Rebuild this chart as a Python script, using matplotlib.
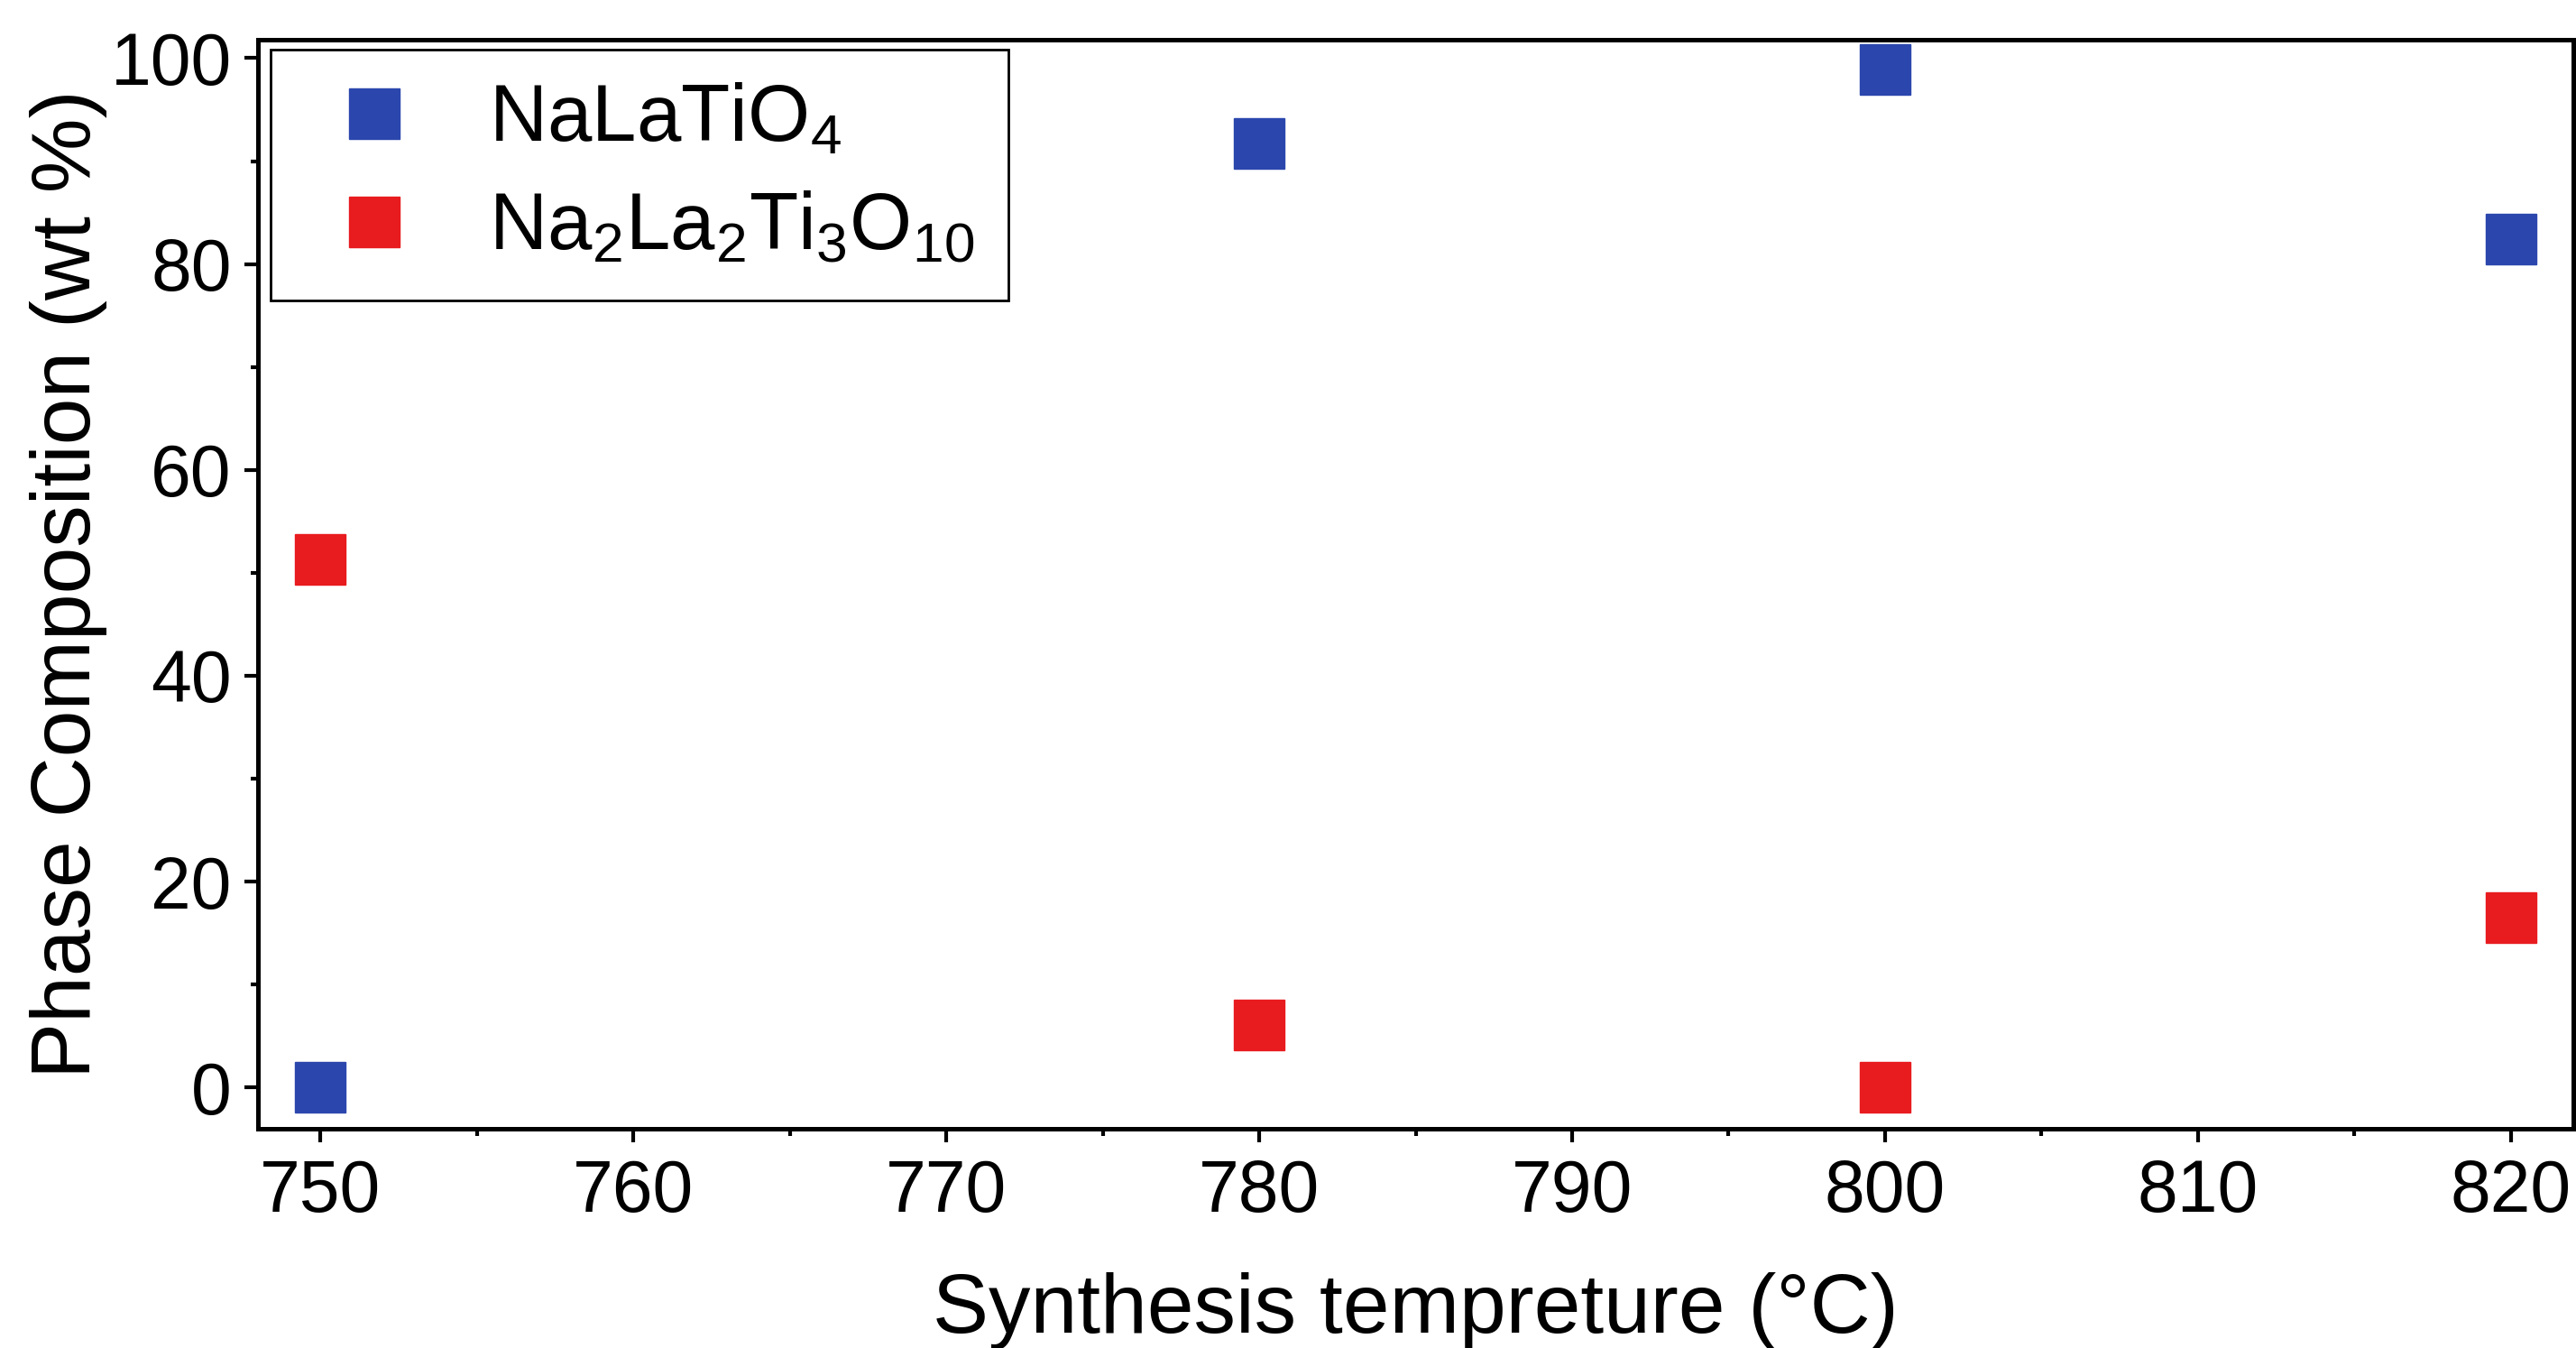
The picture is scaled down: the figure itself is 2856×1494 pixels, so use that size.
import matplotlib
matplotlib.use("Agg")
import matplotlib.pyplot as plt
from matplotlib.ticker import MultipleLocator

# data
temps = [750, 780, 800, 820]
nalatio4 = [0.0, 91.7, 98.9, 82.4]
na2la2ti3o10 = [51.3, 6.1, 0.0, 16.5]
series_labels = [r"NaLaTiO$_4$", r"Na$_2$La$_2$Ti$_3$O$_{10}\!$"]

plt.rcParams["font.family"] = ["Liberation Sans", "DejaVu Sans"]
plt.rcParams["mathtext.fontset"] = "custom"
plt.rcParams["mathtext.rm"] = "Liberation Sans"
plt.rcParams["mathtext.it"] = "Liberation Sans"
plt.rcParams["mathtext.bf"] = "Liberation Sans:bold"
plt.rcParams["mathtext.default"] = "regular"

fig = plt.figure(figsize=(28.56, 14.94), dpi=100)
ax = fig.add_axes([0.1001, 0.1627, 0.8989, 0.8079])

blue = "#2b47ad"
red = "#e81b1f"
ax.plot(temps, nalatio4, "s", color=blue, markersize=41, linestyle="none", label=series_labels[0])
ax.plot(temps, na2la2ti3o10, "s", color=red, markersize=41, linestyle="none", label=series_labels[1])

ax.set_xlim(748, 822)
ax.set_ylim(-4, 101.8)
ax.xaxis.set_major_locator(MultipleLocator(10))
ax.xaxis.set_minor_locator(MultipleLocator(5))
ax.yaxis.set_major_locator(MultipleLocator(20))
ax.yaxis.set_minor_locator(MultipleLocator(10))

ax.tick_params(which="major", direction="out", length=11, width=3, labelsize=58, pad=10)
ax.tick_params(axis="x", which="major", pad=13)
ax.tick_params(which="minor", direction="out", length=6, width=3)
ax.tick_params(top=False, right=False)
for s in ax.spines.values():
    s.set_linewidth(3.6)

ax.set_xlabel("Synthesis tempreture (°C)", fontsize=67, va="baseline")
ax.xaxis.set_label_coords(0.5, -0.187)
ax.set_ylabel("Phase Composition (wt %)", fontsize=67, va="baseline",
              rotation_mode="anchor")
ax.yaxis.set_label_coords(-0.0724, 0.5)

leg = ax.legend(loc="upper left", bbox_to_anchor=(0.0055, 0.991), fontsize=64,
                frameon=True, fancybox=False, edgecolor="black", framealpha=1,
                handletextpad=0.55, borderpad=0.42, labelspacing=0.4, handlelength=1.75,
                borderaxespad=0.0)
leg.get_frame().set_linewidth(2)

fig.savefig("out.png", dpi=100)
